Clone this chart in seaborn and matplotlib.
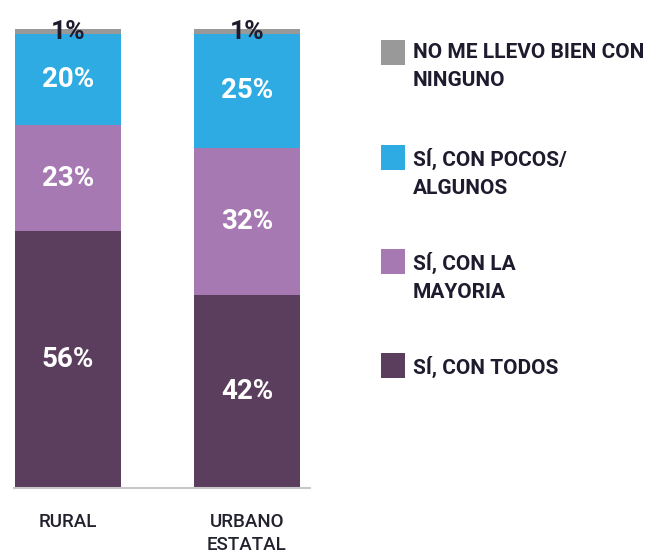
import numpy as np
import pandas as pd
import matplotlib
matplotlib.use("Agg")
import matplotlib.pyplot as plt
import seaborn as sns
from matplotlib.patches import Rectangle
from matplotlib import font_manager

groups = ["RURAL", "URBANO\nESTATAL"]
categories = ["SÍ, CON TODOS", "SÍ, CON LA\nMAYORIA", "SÍ, CON POCOS/\nALGUNOS", "NO ME LLEVO BIEN CON\nNINGUNO"]
rural = [56, 23, 20, 1]
urbano = [42, 32, 25, 1]
colors = ["#5b3d5e", "#a679b3", "#2eabe3", "#999999"]

sns.set_style("white")
names = {f.name for f in font_manager.fontManager.ttflist}
fam = "Liberation Sans Narrow" if "Liberation Sans Narrow" in names else "Roboto"
plt.rcParams["font.family"] = [fam, "DejaVu Sans"]

df = pd.DataFrame({"group": np.repeat(groups, len(categories)),
                   "category": categories * 2,
                   "value": rural + urbano})
df["cum"] = df.groupby("group", sort=False)["value"].cumsum()

fig = plt.figure(figsize=(6.72, 5.53), dpi=100)
ax = fig.add_axes([0.0, 65 / 553, 315 / 672, (488 - 29) / 553])

# draw cumulative layers from the top down so each covers the one above
for cat, col in reversed(list(zip(categories, colors))):
    sub = df[df["category"] == cat]
    sns.barplot(data=sub, x="group", y="cum", order=groups, color=col,
                width=0.59, saturation=1, linewidth=0, edgecolor=col, ax=ax)

for i, g in enumerate(groups):
    sub = df[df["group"] == g]
    prev = 0
    for cat, v, c in zip(sub["category"], sub["value"], sub["cum"]):
        if v <= 2:
            ax.text(i, c - 0.6, f"{v}%", ha="center", va="center", color="#1e1b2e",
                    fontsize=19, fontweight="bold")
        else:
            ax.text(i, prev + v / 2, f"{v}%", ha="center", va="center", color="white",
                    fontsize=20, fontweight="bold")
        prev = c

ax.set_xlim(-0.38, 1.38)
ax.set_ylim(0, 100)
ax.set_xlabel("")
ax.set_ylabel("")
ax.set_yticks([])
ax.set_xticks([0, 1])
ax.set_xticklabels(groups, fontsize=13.5, color="#22222e", linespacing=1.35,
                   fontweight="medium")
ax.tick_params(axis="x", length=0, pad=18)
sns.despine(ax=ax, left=True)
ax.spines["bottom"].set_color("#c8c8c8")
ax.spines["bottom"].set_linewidth(1.5)
ax.spines["bottom"].set_bounds(-0.3, 1.35)

# legend, top entry first
leg_tops = [40, 145, 249, 353]
for top, cat, col in zip(leg_tops, reversed(categories), reversed(colors)):
    fig.add_artist(Rectangle((381 / 672, 1 - (top + 25) / 553), 24 / 672, 25 / 553,
                             transform=fig.transFigure, color=col, lw=0))
    fig.text(413 / 672, 1 - (top + 3) / 553, cat, ha="left", va="top", fontsize=15,
             fontweight="bold", color="#1e1b2e", linespacing=1.6)

fig.savefig("out.png", dpi=100)
